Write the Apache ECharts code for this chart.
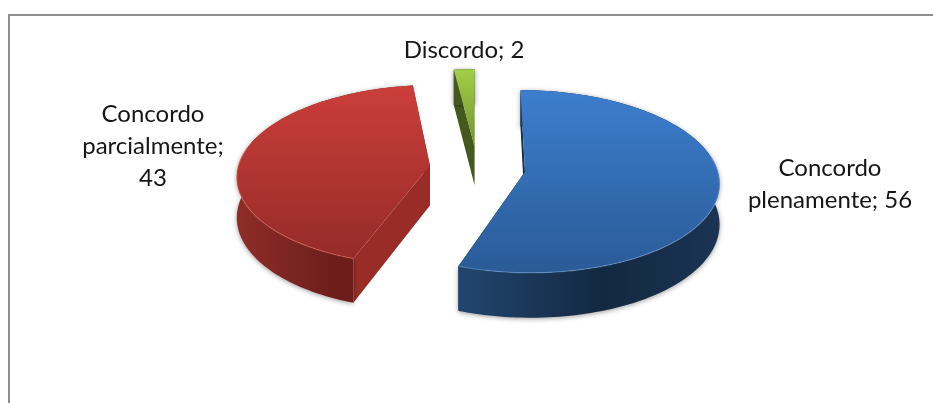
<!DOCTYPE html>
<html><head><meta charset="utf-8">
<style>html,body{margin:0;padding:0;background:#fff}#c{width:933px;height:403px}</style>
<script src="https://cdn.jsdelivr.net/npm/echarts@6/dist/echarts.min.js"></script>
</head><body><div id="c"></div>
<script>
const categories = ['Concordo plenamente', 'Concordo parcialmente', 'Discordo'];
const values = [56, 43, 2];
const labelTexts = ['Concordo\nplenamente; 56', 'Concordo\nparcialmente;\n43', 'Discordo; 2'];
const labelPositions = [[830, 184], [153, 146], [464, 50]];
const topColors = [['#3c7ecd', '#2a5b97'], ['#cb3e3a', '#952b28'], ['#a3cf47', '#6f9230']];
const wallColors = [['#21466f', '#132841', '#1a3453'], ['#8f2d28', '#6d1e1b', '#6d1e1b'], ['#44591e', '#44591e', '#44591e']];
const cutColors = ['#16304e', '#9a2c28', '#44591e'];
const rimColors = ['rgba(120,165,225,0.5)', 'rgba(225,110,100,0.5)', 'rgba(200,230,130,0)'];

// projection of the tilted disc
const geo = { cx: 477.5, cy: 168, rx: 192, ry: 89.5, k: 0.105, depth: 40, explode: 0.25 };
function project(u, v, down) {
  const p = 1 / (1 + geo.k * v);
  return [geo.cx + geo.rx * u * p, geo.cy - geo.ry * v * p + (down ? geo.depth * p : 0)];
}
const total = values.reduce((a, b) => a + b, 0);

function renderItem(params, api) {
  const i = params.dataIndex;
  let before = 0;
  for (let j = 0; j < i; j++) before += values[j];
  const a0 = before / total * 2 * Math.PI;
  const a1 = (before + api.value(0)) / total * 2 * Math.PI;
  const mid = (a0 + a1) / 2;
  const ou = geo.explode * Math.sin(mid), ov = geo.explode * Math.cos(mid);
  const rim = (t, d) => project(ou + Math.sin(t), ov + Math.cos(t), d);
  const apex = d => project(ou, ov, d);
  const n = Math.max(6, Math.round((a1 - a0) * 40));
  const top = [], bottom = [], front = [];
  for (let s = 0; s <= n; s++) {
    const t = a0 + (a1 - a0) * s / n;
    top.push(rim(t, false));
    bottom.push(rim(t, true));
    if (Math.cos(t) < 0.2) front.push(rim(t, false));
  }
  const poly = (points, fill, extra) => ({
    type: 'polygon', shape: { points }, style: Object.assign({ fill }, extra || {})
  });
  const cut = t => poly([apex(false), rim(t, false), rim(t, true), apex(true)], cutColors[i]);
  const shadow = { shadowBlur: 5, shadowColor: 'rgba(0,0,0,0.4)', shadowOffsetY: 1 };
  const children = [
    cut(a1),
    cut(a0),
    poly(top.concat(bottom.slice().reverse()), {
      type: 'linear', x: 0, y: 0, x2: 1, y2: 0,
      colorStops: [
        { offset: 0, color: wallColors[i][0] },
        { offset: 0.55, color: wallColors[i][1] },
        { offset: 1, color: wallColors[i][2] }]
    }, shadow),
    poly([apex(false)].concat(top), {
      type: 'linear', x: 0, y: 0, x2: 0, y2: 1,
      colorStops: [{ offset: 0, color: topColors[i][0] }, { offset: 1, color: topColors[i][1] }]
    }),
    { type: 'polyline', shape: { points: front }, style: { fill: null, stroke: rimColors[i], lineWidth: 1.2 } },
    { type: 'text', style: {
        x: labelPositions[i][0], y: labelPositions[i][1], text: labelTexts[i],
        align: 'center', verticalAlign: 'middle', textAlign: 'center', textVerticalAlign: 'middle',
        fontFamily: 'Lato', fontSize: 24, lineHeight: 32, fill: '#161616' } }
  ];
  return { type: 'group', children };
}

const chart = echarts.init(document.getElementById('c'), null, { renderer: 'canvas' });
chart.setOption({
  animation: false,
  backgroundColor: '#fff',
  graphic: [
    { type: 'rect', shape: { x: 8, y: 14, width: 925, height: 2 }, style: { fill: '#8e8e8e' } },
    { type: 'rect', shape: { x: 8, y: 14, width: 2, height: 389 }, style: { fill: '#8e8e8e' } }
  ],
  series: [{
    type: 'custom', coordinateSystem: 'none', renderItem,
    data: values.map((v, i) => ({ name: categories[i], value: v }))
  }]
});
</script></body></html>
